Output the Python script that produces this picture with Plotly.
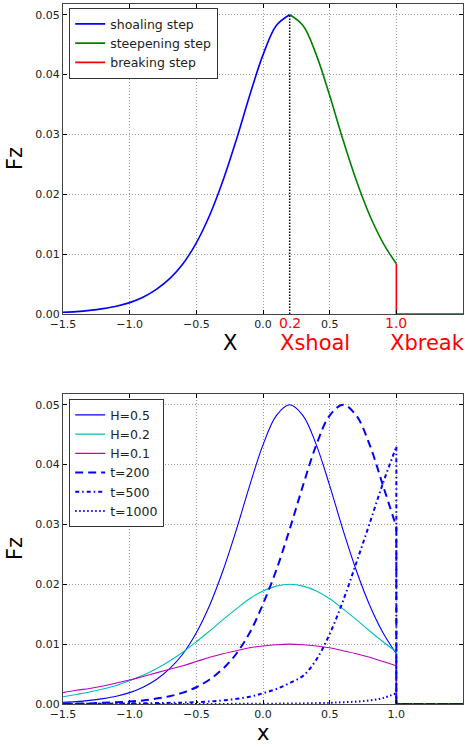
import plotly.graph_objects as go

# ---------------- data ----------------
x_grid = [-1.5, -1.4, -1.3, -1.2, -1.1, -1.0, -0.9, -0.8, -0.7, -0.6, -0.5, -0.4, -0.3,
          -0.2, -0.1, 0.0, 0.1, 0.2, 0.3, 0.4, 0.5, 0.6, 0.7, 0.8, 0.9, 1.0]

fz_H05 = [0.0003, 0.0004, 0.0006, 0.0009, 0.0013, 0.0019, 0.0028, 0.0041, 0.0059, 0.0084,
          0.0119, 0.0165, 0.0223, 0.0291, 0.0365, 0.0433, 0.0482, 0.0500, 0.0482, 0.0433,
          0.0365, 0.0291, 0.0223, 0.0165, 0.0119, 0.0084]
fz_H02 = [0.0012, 0.0016, 0.0020, 0.0025, 0.0031, 0.0039, 0.0048, 0.0059, 0.0072, 0.0087,
          0.0104, 0.0122, 0.0141, 0.0159, 0.0176, 0.0189, 0.0197, 0.0200, 0.0197, 0.0189,
          0.0176, 0.0159, 0.0141, 0.0122, 0.0104, 0.0087]
fz_H01 = [0.0019, 0.0023, 0.0026, 0.0030, 0.0035, 0.0040, 0.0046, 0.0052, 0.0058, 0.0064,
          0.0071, 0.0078, 0.0084, 0.0089, 0.0094, 0.0097, 0.0099, 0.0100, 0.0099, 0.0097,
          0.0094, 0.0089, 0.0084, 0.0078, 0.0071, 0.0064]
fz_t200 = [0.0001, 0.0001, 0.0001, 0.0002, 0.0003, 0.0004, 0.0006, 0.0009, 0.0013, 0.0019,
           0.0028, 0.0041, 0.0059, 0.0084, 0.0119, 0.0167, 0.0224, 0.0292, 0.0365, 0.0433,
           0.0482, 0.0500, 0.0482, 0.0433, 0.0365, 0.0296]

x_t500 = [-1.5, -1.0, -0.5, -0.3, -0.1, 0.0, 0.1, 0.2, 0.3, 0.4, 0.5, 0.6, 0.7, 0.8, 0.9, 1.0]
fz_t500 = [0.0000, 0.0001, 0.0003, 0.0006, 0.0012, 0.0018, 0.0025, 0.0035, 0.0047, 0.0074,
           0.0117, 0.0172, 0.0236, 0.0302, 0.0369, 0.0430]

x_t1000 = [-1.5, -1.0, -0.5, 0.0, 0.3, 0.5, 0.6, 0.7, 0.8, 0.9, 1.0]
fz_t1000 = [0.0000, 0.0000, 0.0000, 0.00005, 0.0001, 0.0002, 0.0003, 0.0004, 0.0006, 0.0010, 0.0018]

x_shoal = 0.2
x_break = 1.0
x_end = 1.5

y_ticks = [0.0, 0.01, 0.02, 0.03, 0.04, 0.05]
y_tick_text = ["0.00", "0.01", "0.02", "0.03", "0.04", "0.05"]
x_ticks_top = [-1.5, -1.0, -0.5, 0.0, 0.5, 1.0]
x_tick_text_top = ["\u22121.5", "\u22121.0", "\u22120.5", "0.0", "0.5", ""]
x_ticks_bot = [-1.5, -1.0, -0.5, 0.0, 0.5, 1.0]
x_tick_text_bot = ["\u22121.5", "\u22121.0", "\u22120.5", "0.0", "0.5", "1.0"]

# ---------------- figure ----------------
FONT = "DejaVu Sans"
BLUE, GREEN, RED = "#0000ff", "#008000", "#ff0000"
CYAN, MAGENTA = "#00bfbf", "#bf00bf"

fig = go.Figure()

i_peak = x_grid.index(x_shoal)

# top panel
fig.add_trace(go.Scatter(x=x_grid[:i_peak + 1], y=fz_H05[:i_peak + 1], mode="lines",
                         line=dict(color=BLUE, width=1.6, shape="spline"),
                         name="shoaling step", legend="legend", xaxis="x", yaxis="y"))
fig.add_trace(go.Scatter(x=x_grid[i_peak:], y=fz_H05[i_peak:], mode="lines",
                         line=dict(color=GREEN, width=1.6, shape="spline"),
                         name="steepening step", legend="legend", xaxis="x", yaxis="y"))
fig.add_trace(go.Scatter(x=[x_break, x_break, x_end], y=[fz_H05[-1], 0, 0], mode="lines",
                         line=dict(color=RED, width=1.6),
                         name="breaking step", legend="legend", xaxis="x", yaxis="y"))
fig.add_trace(go.Scatter(x=[x_shoal, x_shoal], y=[0, max(fz_H05)], mode="lines",
                         line=dict(color="black", width=1.5, dash="1.5px,1.5px"),
                         showlegend=False, xaxis="x", yaxis="y"))

# bottom panel
def add_series(xs, ys, name, color, width, dash):
    fig.add_trace(go.Scatter(x=xs, y=ys, mode="lines",
                             line=dict(color=color, width=width, dash=dash, shape="spline"),
                             name=name, legend="legend2", legendgroup=name,
                             xaxis="x2", yaxis="y2"))
    fig.add_trace(go.Scatter(x=[x_break, x_break, x_end], y=[ys[-1], 0, 0], mode="lines",
                             line=dict(color=color, width=width, dash=dash),
                             showlegend=False, legendgroup=name,
                             xaxis="x2", yaxis="y2"))

add_series(x_grid, fz_H05, "H=0.5", BLUE, 1.1, "solid")
add_series(x_grid, fz_H02, "H=0.2", CYAN, 1.1, "solid")
add_series(x_grid, fz_H01, "H=0.1", MAGENTA, 1.1, "solid")
add_series(x_grid, fz_t200, "t=200", BLUE, 2, "8px,5px")
add_series(x_t500, fz_t500, "t=500", BLUE, 2, "4px,3px,1.5px,3px")
add_series(x_t1000, fz_t1000, "t=1000", BLUE, 2, "1.5px,2.5px")

axis_common = dict(showline=True, linecolor="#444444", linewidth=1.3, mirror="ticks",
                   ticks="inside", ticklen=4, tickcolor="black", tickwidth=1,
                   showgrid=True, gridcolor="#9a9a9a", griddash="1px,2px", gridwidth=1,
                   zeroline=False, tickfont=dict(family=FONT, size=11, color="#222222"))

top_dom = [(704 - 314) / 700, 1.0]
bot_dom = [0.0, (704 - 394) / 700]

legend_common = dict(xanchor="left", yanchor="top", bgcolor="white",
                     bordercolor="#333333", borderwidth=1.2, tracegroupgap=0,
                     font=dict(family=FONT, size=12.5, color="#222222"))

fig.update_layout(
    width=465, height=747,
    margin=dict(l=63, r=2, t=4, b=43),
    paper_bgcolor="white", plot_bgcolor="white",
    font=dict(family=FONT, color="#222222"),
    xaxis=dict(domain=[0, 1], anchor="y", range=[-1.5, 1.5],
               tickvals=x_ticks_top, ticktext=x_tick_text_top, **axis_common),
    yaxis=dict(domain=top_dom, anchor="x", range=[0, 0.0518],
               tickvals=y_ticks, ticktext=y_tick_text, **axis_common),
    xaxis2=dict(domain=[0, 1], anchor="y2", range=[-1.5, 1.5],
                tickvals=x_ticks_bot, ticktext=x_tick_text_bot, **axis_common),
    yaxis2=dict(domain=bot_dom, anchor="x2", range=[0, 0.0518],
                tickvals=y_ticks, ticktext=y_tick_text, **axis_common),
    legend=dict(x=0.015, y=(704 - 8) / 700, **legend_common),
    legend2=dict(x=0.015, y=(704 - 399) / 700, **legend_common),
    showlegend=True,
)

ann = []
# red special tick labels on the top panel
for xv, txt in [(x_shoal, "0.2"), (x_break, "1.0")]:
    ann.append(dict(x=xv, y=(704 - 323) / 700, xref="x", yref="paper", text=txt,
                    showarrow=False, xanchor="center", yanchor="middle",
                    font=dict(family=FONT, size=14, color=RED)))
# axis labels
ann.append(dict(x=-0.2475, y=(704 - 343) / 700, xref="x", yref="paper", text="X",
                showarrow=False, xanchor="center", yanchor="middle",
                font=dict(family=FONT, size=21, color="black")))
ann.append(dict(x=0.1125, y=(704 - 343) / 700, xref="x", yref="paper", text="Xshoal",
                showarrow=False, xanchor="left", yanchor="middle",
                font=dict(family=FONT, size=21, color=RED)))
ann.append(dict(x=0.9375, y=(704 - 343) / 700, xref="x", yref="paper", text="Xbreak",
                showarrow=False, xanchor="left", yanchor="middle",
                font=dict(family=FONT, size=21, color=RED)))
ann.append(dict(x=0.0, y=(704 - 746) / 700, xref="x2", yref="paper", text="x",
                showarrow=False, xanchor="center", yanchor="bottom", borderpad=0,
                font=dict(family=FONT, size=21, color="black")))
for yc in [(704 - 159) / 700, (704 - 549) / 700]:
    ann.append(dict(x=(15 - 63) / 400, y=yc, xref="paper", yref="paper", text="Fz",
                    showarrow=False, xanchor="center", yanchor="middle", textangle=-90,
                    font=dict(family=FONT, size=21, color="black")))
fig.update_layout(annotations=ann)

fig.write_html("out.html")
